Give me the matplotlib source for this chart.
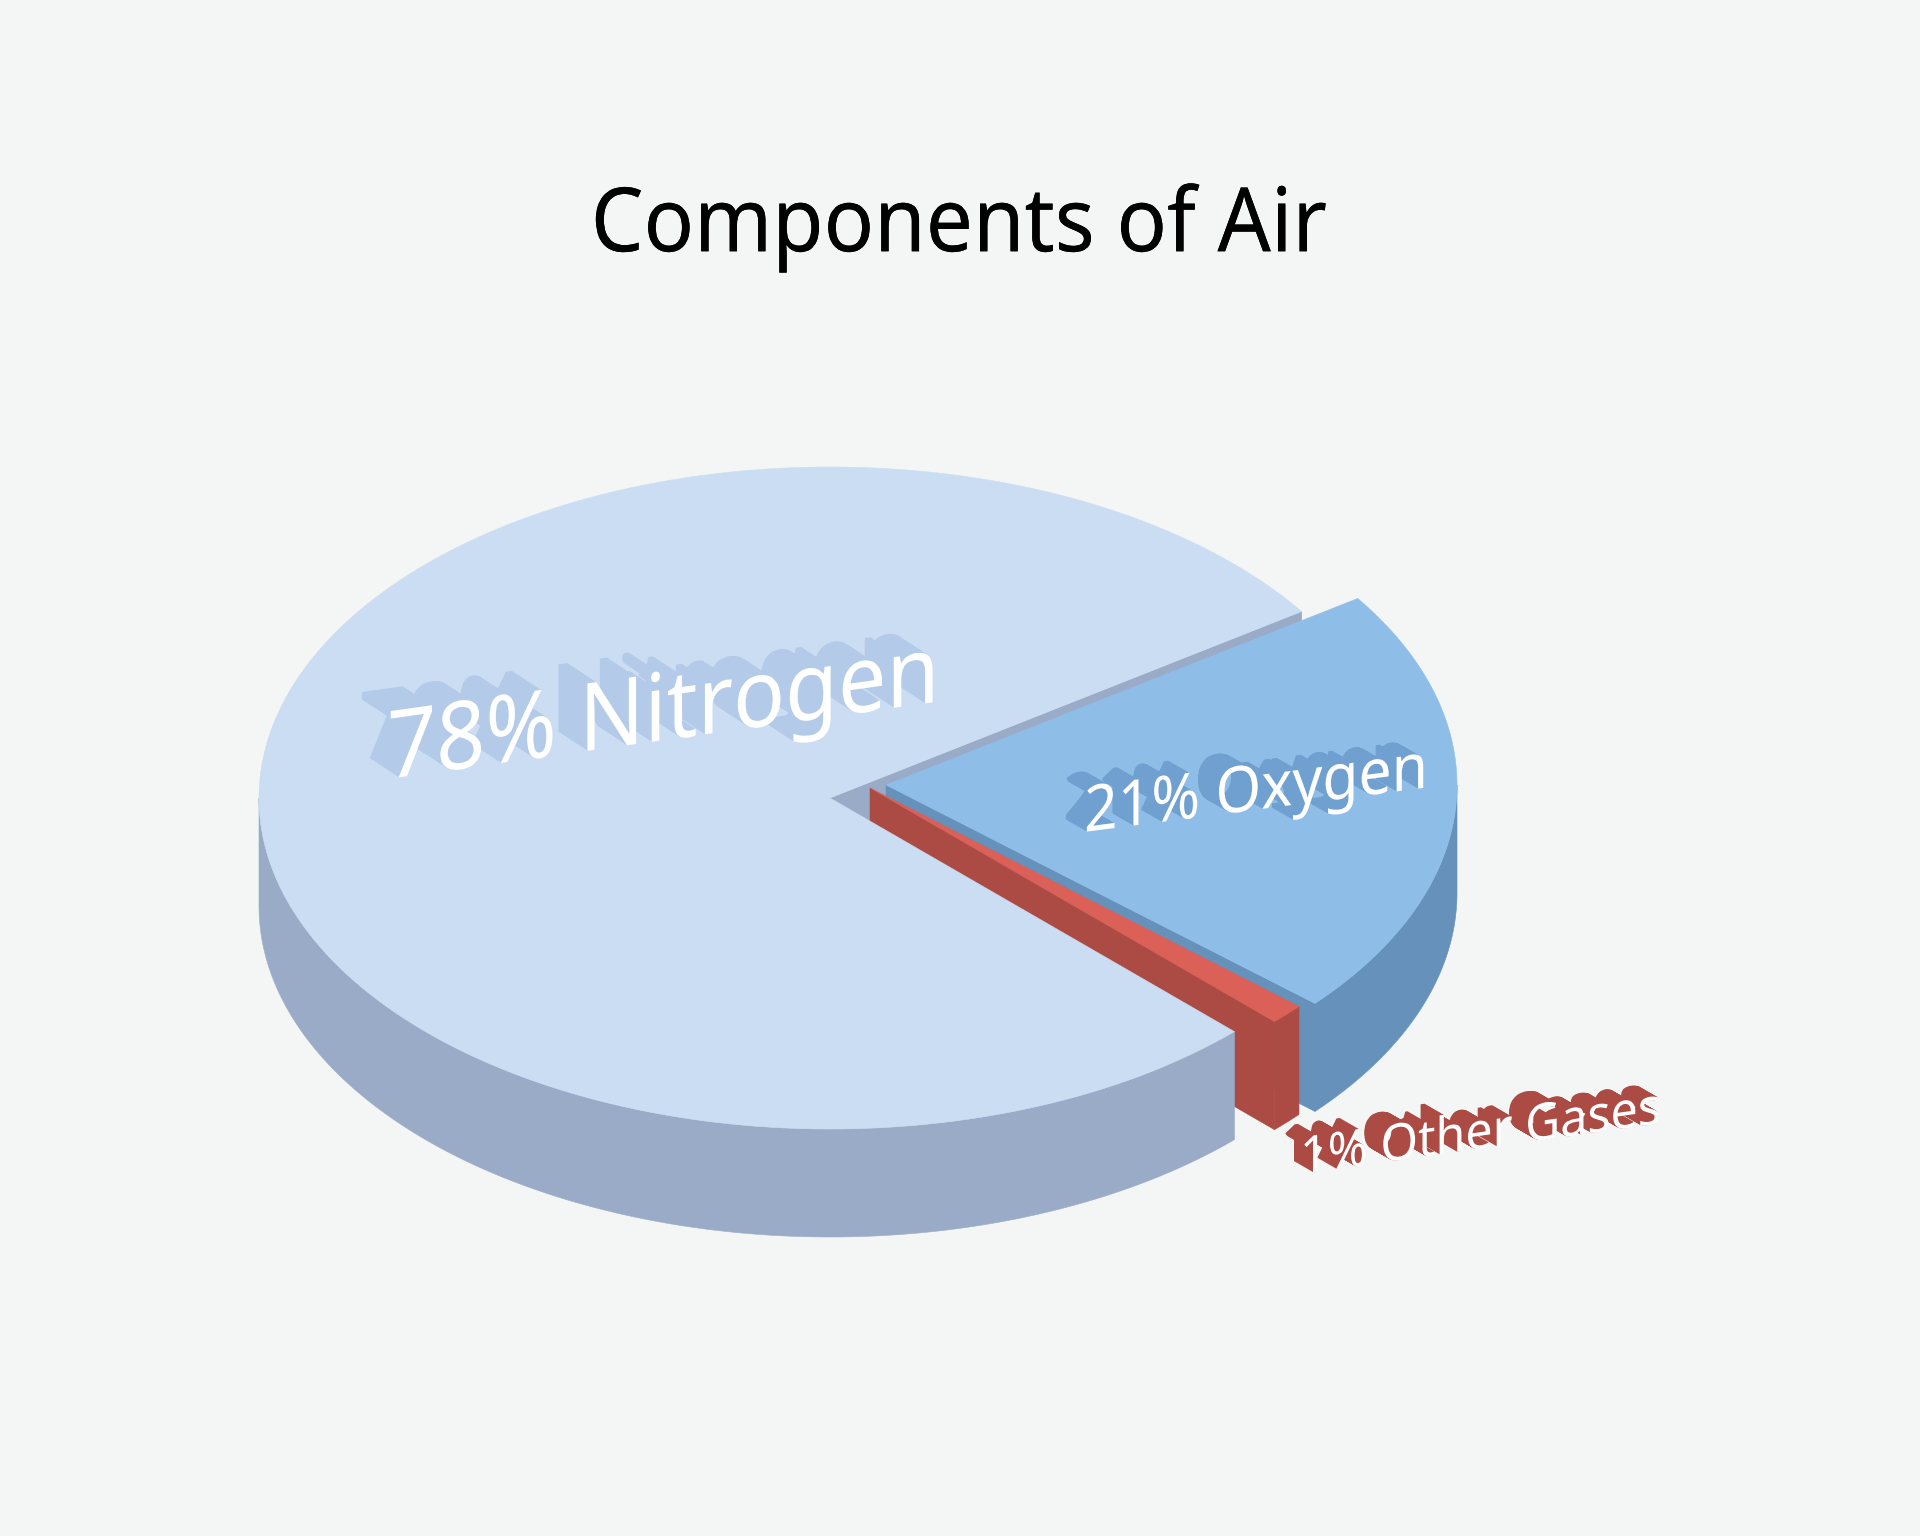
import numpy as np
import matplotlib
matplotlib.use("Agg")
import matplotlib.pyplot as plt
from matplotlib.patches import Polygon
from matplotlib.patheffects import AbstractPathEffect
from matplotlib.transforms import Affine2D

# data
names = ["Nitrogen", "Other Gases", "Oxygen"]
shares = [78, 1, 21]
labels = ["78% Nitrogen", "1% Other Gases", "21% Oxygen"]
title = "Components of Air"

# colours, top / side
top_colors = ["#CBDDF2", "#DB6058", "#8EBEE8"]
side_colors = ["#9AABC8", "#AB4B44", "#6591BA"]
shadow_colors = ["#B3CAE8", "#AB4B44", "#6FA0D0"]
bg = "#F4F6F5"

# pie geometry in pixels
cx, cy = 830, 798
rx, ry = 571, 331
depth = 108
start_angle = 34.3
offsets = [(0, 0), (40, -10), (56, -13)]


class Extrude(AbstractPathEffect):
    # shears the glyphs along the pie plane and drags them back for a 3D look
    def __init__(self, angle, shift, color, xscale=1.0, steps=40):
        super().__init__()
        self.angle = angle
        self.shift = shift
        self.color = matplotlib.colors.to_rgb(color)
        self.xscale = xscale
        self.steps = steps

    def draw_path(self, renderer, gc, tpath, affine, rgbFace=None):
        m = affine.get_matrix()
        x0, y0 = m[0, 2], m[1, 2]
        warp = Affine2D().translate(-x0, -y0).scale(self.xscale, 1).skew_deg(0, self.angle).translate(x0, y0)
        sheared = affine + warp
        for i in range(self.steps, 0, -1):
            f = i / self.steps
            moved = sheared + Affine2D().translate(self.shift[0] * f, self.shift[1] * f)
            renderer.draw_path(gc, tpath, moved, self.color)
        renderer.draw_path(gc, tpath, sheared, rgbFace)


def arc(t1, t2, off=(0, 0), n=200):
    t = np.radians(np.linspace(t1, t2, n))
    return np.column_stack([cx + off[0] + rx * np.cos(t), cy + off[1] - ry * np.sin(t)])


def shape(ax, pts, color, z):
    ax.add_patch(Polygon(pts, closed=True, fc=color, ec=color, lw=0.4, zorder=z))


def side_of(pts):
    return np.vstack([pts, (pts + [0, depth])[::-1]])


fig = plt.figure(figsize=(19.2, 15.36), dpi=100, facecolor=bg)
ax = fig.add_axes([0, 0, 1, 1])
ax.set_xlim(0, 1920)
ax.set_ylim(1536, 0)
ax.axis("off")

ends = start_angle + np.cumsum(np.array(shares) * 3.6)
starts = ends - np.array(shares) * 3.6

# nitrogen cut face shows in the gap, so it goes under the other slices
centre = np.array([[cx, cy]])
first_edge = arc(starts[0], starts[0], n=1)
shape(ax, side_of(np.vstack([centre, first_edge])), side_colors[0], 1)

# oxygen, then other gases: cut face, rim, top
for z, i in enumerate([2, 1]):
    off = offsets[i]
    apex = np.array([[cx + off[0], cy + off[1]]])
    outer = arc(starts[i], ends[i], off)
    shape(ax, side_of(np.vstack([apex, outer[:1]])), side_colors[i], 2 + z)
    # the rim only shows on the front half
    shape(ax, side_of(arc(starts[i], min(ends[i], 360), off)), side_colors[i], 2 + z)
    shape(ax, np.vstack([apex, outer]), top_colors[i], 2 + z)

# nitrogen rim and top sit in front of the red cut face
shape(ax, side_of(arc(180, ends[0])), side_colors[0], 6)
shape(ax, np.vstack([centre, arc(starts[0], ends[0])]), top_colors[0], 6)

ax.text(982, 228, title, ha="center", va="center", fontsize=64,
        family="Noto Sans", color="black", zorder=10,
        path_effects=[Extrude(0, (0, 0), "black", xscale=0.94, steps=1)])

ax.text(387, 779, labels[0], fontsize=68, family="Noto Sans", color="white", zorder=10,
        path_effects=[Extrude(8, (-29, 19), shadow_colors[0], xscale=0.91)])
ax.text(1084, 832, labels[2], fontsize=46, family="Noto Sans", color="white", zorder=10,
        path_effects=[Extrude(7.4, (-21, 12), shadow_colors[2], xscale=0.92)])
ax.text(1300, 1174, labels[1], fontsize=37, family="Noto Sans", color="white", zorder=10,
        path_effects=[Extrude(8, (-19, 11), shadow_colors[1], xscale=0.94)])

fig.savefig("out.png", dpi=100, facecolor=bg)
